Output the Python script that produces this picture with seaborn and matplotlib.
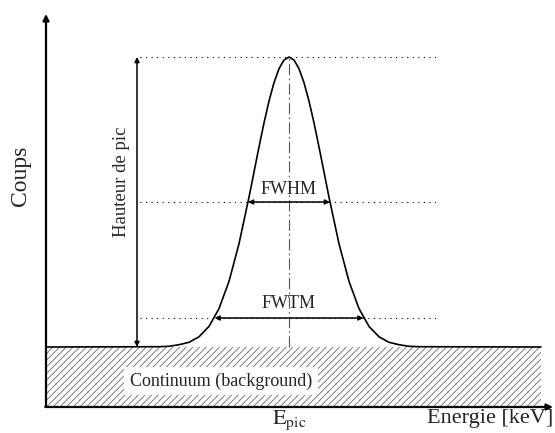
import matplotlib.pyplot as plt
import seaborn as sns
from matplotlib.patches import Rectangle

# Spectre schématique (unités arbitraires)
energie = [0, 113, 123, 133, 143, 153, 163, 173, 183, 193, 203, 208, 213, 218, 223, 228, 233, 238, 243,
           248, 253, 258, 263, 268, 273, 278, 283, 293, 303, 313, 323, 333, 343, 353, 363, 373, 495]
coups = [60, 60.3, 60.7, 62.3, 64.7, 70.2, 80.6, 98.4, 125.6, 163.3, 209.8, 234.9, 260.0, 284.1, 305.9, 324.3, 338.3, 347.0, 350,
         347.0, 338.3, 324.3, 305.9, 284.1, 260.0, 234.9, 209.8, 163.3, 125.6, 98.4, 80.6, 70.2, 64.7, 62.3, 60.7, 60.3, 60]

fond = 60          # niveau du continuum
sommet = 350       # hauteur du pic (avec fond)
e_pic = 243
mi_hauteur = 205
dixieme = 89
fwhm = [202, 284]
fwtm = [168.5, 317.5]
fin_fond = 495
x_max, y_max = 507, 393

sns.set_style("white")
plt.rcParams['font.family'] = ['Liberation Serif', 'DejaVu Serif']
plt.rcParams['mathtext.fontset'] = 'stix'
plt.rcParams['hatch.linewidth'] = 0.6

fig = plt.figure(figsize=(5.55, 4.33), dpi=100)
ax = fig.add_axes([46 / 555, 26 / 433, 507 / 555, 393 / 433])
ax.set_xlim(0, x_max)
ax.set_ylim(0, y_max)
ax.axis('off')

# continuum hachuré
ax.add_patch(Rectangle((0, 0), fin_fond, fond, facecolor='white', edgecolor='#6a6a6a',
                       hatch='/////', linewidth=0))

# courbe
sns.lineplot(x=energie, y=coups, ax=ax, color='black', linewidth=1.2, sort=False, estimator=None)

# lignes pointillées horizontales
for niv in [sommet, mi_hauteur, dixieme]:
    ax.plot([94, 394], [niv, niv], color='black', linewidth=0.8, linestyle=(0, (1, 4)))

# axe central
ax.plot([e_pic, e_pic], [fond, sommet], color='#555555', linewidth=0.8,
        linestyle=(0, (10, 3, 1.5, 3)))

# flèches
fl = dict(arrowstyle='<|-|>', color='black', lw=1.1, mutation_scale=7, shrinkA=0, shrinkB=0)
ax.annotate('', xy=(fwhm[0], mi_hauteur), xytext=(fwhm[1], mi_hauteur), arrowprops=fl)
ax.annotate('', xy=(fwtm[0], dixieme), xytext=(fwtm[1], dixieme), arrowprops=fl)
ax.annotate('', xy=(91, fond), xytext=(91, sommet), arrowprops=fl)

# axes du graphique
ax_fl = dict(arrowstyle='-|>', color='black', lw=1.6, mutation_scale=9, shrinkA=0, shrinkB=0)
ax.annotate('', xy=(0, y_max), xytext=(0, 0), arrowprops=ax_fl, annotation_clip=False)
ax.annotate('', xy=(x_max, 0), xytext=(-0.8, 0), arrowprops=ax_fl, annotation_clip=False)

# textes
ax.text(e_pic, 218, 'FWHM', ha='center', va='center', fontsize=13)
ax.text(e_pic, 103, 'FWTM', ha='center', va='center', fontsize=13)
ax.text(76, 225, 'Hauteur de pic', rotation=90, ha='center', va='center', fontsize=13.5)
ax.text(175, 26, 'Continuum (background)', ha='center', va='center', fontsize=13,
        bbox=dict(boxstyle='square,pad=0.3', facecolor='white', edgecolor='none'))
ax.text(-26, 231, 'Coups', rotation=90, ha='center', va='center', fontsize=17, clip_on=False)
ax.text(507, -2, 'Energie [keV]', ha='right', va='top', fontsize=16, clip_on=False)
ax.text(e_pic, -2, r'$\mathrm{E}_{\mathrm{pic}}$', ha='center', va='top', fontsize=16, clip_on=False)

plt.savefig('out.png', dpi=100)
